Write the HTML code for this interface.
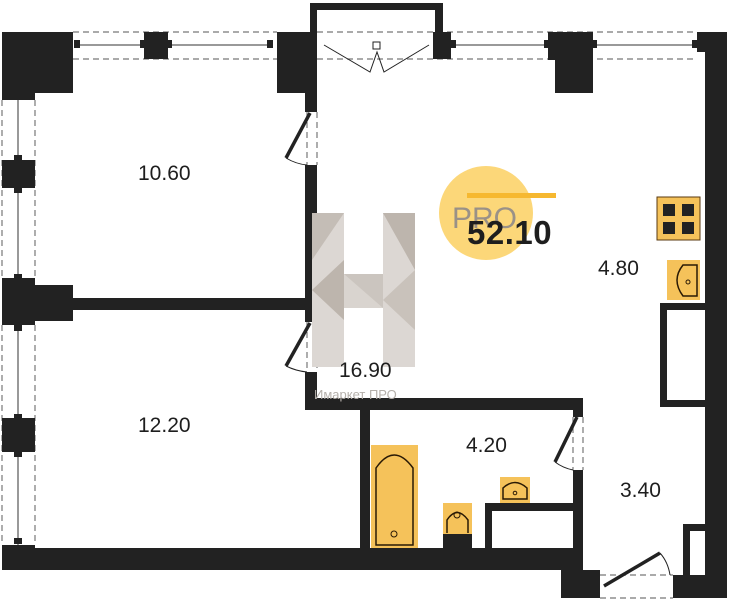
<!DOCTYPE html>
<html><head><meta charset="utf-8"><style>
html,body{margin:0;padding:0;background:#fff;}
svg{display:block;}
text{font-family:"Liberation Sans","DejaVu Sans",sans-serif;}
</style></head><body>
<svg width="729" height="600" viewBox="0 0 729 600" xmlns="http://www.w3.org/2000/svg">
<g fill="#222">
<rect x="2" y="32" width="71" height="61"/>
<rect x="2" y="93" width="33" height="7"/>
</g>
<g stroke="#777" stroke-dasharray="6,4" fill="none" stroke-width="1.2">
<line x1="73" y1="32" x2="277" y2="32"/><line x1="73" y1="59" x2="277" y2="59"/>
<line x1="317" y1="32" x2="697" y2="32"/><line x1="317" y1="59" x2="697" y2="59"/>
<line x1="2" y1="100" x2="2" y2="280"/><line x1="35" y1="100" x2="35" y2="280"/>
<line x1="2" y1="325" x2="2" y2="545"/><line x1="35" y1="325" x2="35" y2="545"/>
<line x1="307" y1="112" x2="307" y2="165"/><line x1="317" y1="112" x2="317" y2="165"/>
<line x1="307" y1="322" x2="307" y2="372"/><line x1="317" y1="322" x2="317" y2="372"/>
<line x1="573" y1="417" x2="573" y2="470"/><line x1="583" y1="417" x2="583" y2="470"/>
<line x1="600" y1="575" x2="673" y2="575"/><line x1="600" y1="598" x2="673" y2="598"/>
</g>
<g stroke="#333" stroke-width="1">
<line x1="78" y1="45" x2="144" y2="45"/><line x1="168" y1="45" x2="272" y2="45"/>
<line x1="451" y1="45" x2="548" y2="45"/><line x1="593" y1="45" x2="697" y2="45"/>
<line x1="18" y1="100" x2="18" y2="160"/><line x1="18" y1="188" x2="18" y2="280"/>
<line x1="18" y1="325" x2="18" y2="418"/><line x1="18" y1="452" x2="18" y2="545"/>
</g>
<g fill="#222">
<rect x="144" y="32" width="24" height="27"/>
<rect x="74" y="40" width="6" height="8"/><rect x="140" y="40" width="6" height="8"/><rect x="166" y="40" width="6" height="8"/><rect x="267" y="40" width="6" height="8"/>
<rect x="277" y="32" width="40" height="28"/><rect x="277" y="60" width="28" height="33"/>
<rect x="305" y="60" width="12" height="52"/>
<rect x="305" y="165" width="12" height="157"/>
<rect x="305" y="372" width="12" height="38"/>
<rect x="310" y="3" width="133" height="7"/><rect x="310" y="3" width="7" height="30"/><rect x="435" y="3" width="8" height="30"/>
<rect x="433" y="32" width="18" height="27"/>
<rect x="548" y="32" width="45" height="28"/><rect x="555" y="60" width="38" height="33"/>
<rect x="450" y="40" width="6" height="8"/><rect x="544" y="40" width="6" height="8"/><rect x="591" y="40" width="6" height="8"/><rect x="692" y="40" width="6" height="8"/>
<rect x="697" y="32" width="30" height="20"/><rect x="705" y="52" width="22" height="546"/>
<rect x="2" y="160" width="33" height="28"/>
<rect x="2" y="278" width="33" height="47"/><rect x="35" y="285" width="38" height="36"/>
<rect x="73" y="298" width="237" height="12"/>
<rect x="2" y="418" width="33" height="34"/>
<rect x="2" y="545" width="33" height="5"/>
<rect x="14" y="155" width="8" height="6"/><rect x="14" y="187" width="8" height="6"/>
<rect x="14" y="274" width="8" height="6"/><rect x="14" y="325" width="8" height="6"/>
<rect x="14" y="414" width="8" height="6"/><rect x="14" y="451" width="8" height="6"/>
<rect x="14" y="538" width="8" height="6"/>
<rect x="2" y="548" width="581" height="22"/>
<rect x="561" y="570" width="39" height="28"/>
<rect x="673" y="575" width="54" height="23"/>
<rect x="683" y="524" width="22" height="51"/>
<rect x="305" y="398" width="278" height="12"/>
<rect x="360" y="410" width="10" height="138"/>
<rect x="573" y="398" width="10" height="19"/>
<rect x="573" y="470" width="10" height="78"/>
<rect x="485" y="503" width="88" height="8"/><rect x="485" y="511" width="7" height="37"/>
<rect x="660" y="303" width="45" height="104"/>
</g>
<rect x="667" y="310" width="38" height="90" fill="#fff"/>
<rect x="690" y="531" width="15" height="44" fill="#fff"/>
<g stroke="#222" stroke-width="3.5" fill="none">
<line x1="310" y1="113" x2="286" y2="158"/>
<line x1="310" y1="323" x2="286" y2="366"/>
<line x1="577" y1="417" x2="555" y2="462"/>
<line x1="604" y1="586" x2="660" y2="553"/>
</g>
<g stroke="#222" stroke-width="1" fill="none">
<path d="M286 158 Q296 164 307 165"/><path d="M286 366 Q296 371 307 372"/>
<path d="M555 462 Q563 468 573 470"/><path d="M660 553 Q668 562 670 575"/>
<path d="M324 45 L370 72 L377 52 L384 72 L429 45"/>
<rect x="373" y="42" width="7" height="7"/>
</g>
<g>
<rect x="312" y="213" width="32" height="154" fill="#dcd7d3"/>
<rect x="383" y="213" width="32" height="154" fill="#dcd7d3"/>
<rect x="344" y="274" width="39" height="34" fill="#cbc5bf"/>
<polygon points="312,213 344,213 312,260" fill="#c4bdb6"/>
<polygon points="312,290 344,260 344,320" fill="#bdb5ad"/>
<polygon points="383,213 415,213 415,270" fill="#bdb5ad"/>
<polygon points="383,300 415,270 415,330" fill="#c9c2bb"/>
<polygon points="344,274 383,308 344,308" fill="#d9d4cf"/>
</g>
<rect x="657" y="197" width="43" height="43" fill="#f5c25a" stroke="#5a3a10" stroke-width="1"/>
<g fill="#222"><rect x="663" y="204" width="12" height="12"/><rect x="682" y="204" width="12" height="12"/><rect x="663" y="222" width="12" height="12"/><rect x="682" y="222" width="12" height="12"/></g>
<rect x="667" y="260" width="33" height="40" fill="#f5c25a"/>
<path d="M697 265 L683 265 Q671 280 683 296 L697 296 Z" fill="none" stroke="#2a1a05" stroke-width="1.5"/>
<circle cx="688" cy="282" r="2" fill="none" stroke="#2a1a05"/>
<rect x="371" y="445" width="47" height="103" fill="#f5c25a"/>
<path d="M376 545 L376 468 Q394 442 413 468 L413 545 Z" fill="none" stroke="#2a1a05" stroke-width="1.5"/>
<circle cx="394" cy="534" r="3" fill="none" stroke="#2a1a05"/>
<rect x="443" y="503" width="29" height="33" fill="#f5c25a"/>
<rect x="443" y="534" width="29" height="14" fill="#222"/>
<path d="M447 533 L447 520 Q457 505 468 520 L468 533" fill="none" stroke="#2a1a05" stroke-width="1.5"/>
<circle cx="457" cy="515" r="3" fill="none" stroke="#2a1a05"/>
<rect x="500" y="477" width="30" height="26" fill="#f5c25a"/>
<path d="M503 499 L527 499 L527 488 Q515 477 503 488 Z" fill="none" stroke="#2a1a05" stroke-width="1.5"/>
<circle cx="515" cy="493" r="1.8" fill="none" stroke="#2a1a05"/>
<circle cx="486" cy="213" r="47" fill="#fcd36a" opacity="0.9"/>
<rect x="467" y="193" width="89" height="5" fill="#f6b830"/>
<text x="452" y="228" font-size="30" fill="#9a9187">PRO</text>
<text x="467" y="244" font-size="33" font-weight="bold" fill="#1e1e1e" letter-spacing="0.5">52.10</text>
<g font-size="21" fill="#1e1e1e">
<text x="138" y="180">10.60</text>
<text x="138" y="432">12.20</text>
<text x="339" y="377">16.90</text>
<text x="466" y="452">4.20</text>
<text x="598" y="275">4.80</text>
<text x="620" y="497">3.40</text>
</g>
<text x="314" y="399" font-size="13" fill="#b5b0ab">Имаркет ПРО</text>
</svg>
</body></html>
